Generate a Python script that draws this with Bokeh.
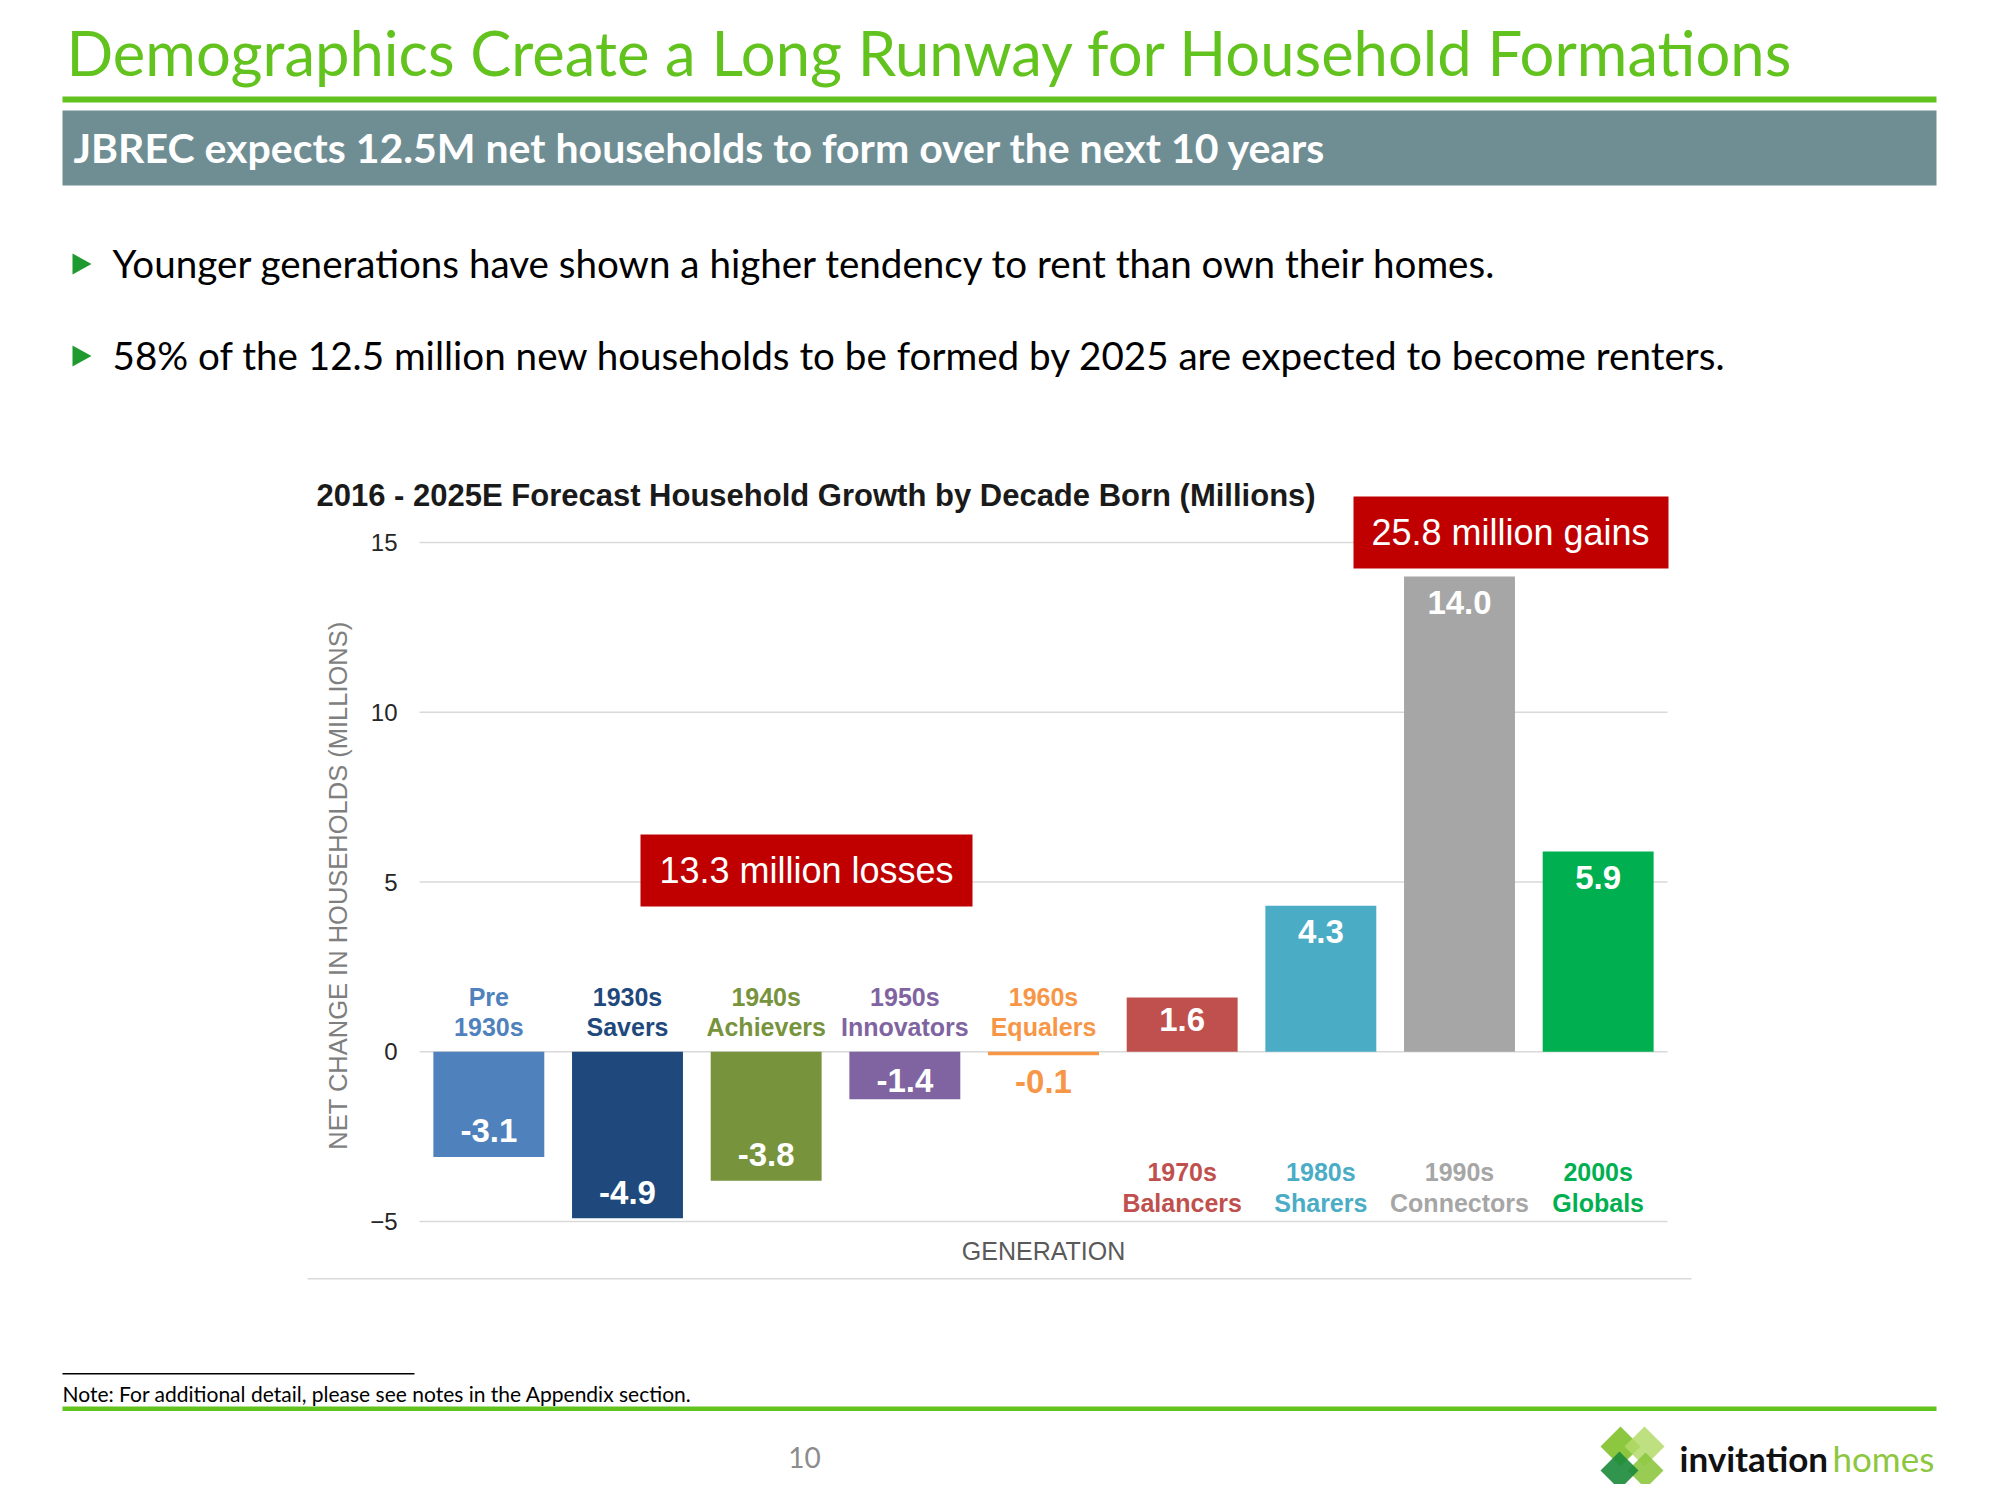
import math
from bokeh.plotting import figure
from bokeh.models import Range1d, FixedTicker, ColumnDataSource
from bokeh.embed import file_html
from bokeh.resources import INLINE
from bokeh.core.properties import value

# ---------------- data ----------------
gen_decade = ["Pre", "1930s", "1940s", "1950s", "1960s", "1970s", "1980s", "1990s", "2000s"]
gen_name = ["1930s", "Savers", "Achievers", "Innovators", "Equalers", "Balancers", "Sharers", "Connectors", "Globals"]
net_change = [-3.1, -4.9, -3.8, -1.4, -0.1, 1.6, 4.3, 14.0, 5.9]
bar_colors = ["#4F81BD", "#1F497D", "#77933C", "#8064A2", "#F79646", "#C0504D", "#4BACC6", "#A6A6A6", "#00B050"]
y_ticks = [-5, 0, 5, 10, 15]

title_text = "Demographics Create a Long Runway for Household Formations"
subtitle_text = "JBREC expects 12.5M net households to form over the next 10 years"
bullet_texts = [
    "Younger generations have shown a higher tendency to rent than own their homes.",
    "58% of the 12.5 million new households to be formed by 2025 are expected to become renters.",
]
chart_title = "2016 - 2025E Forecast Household Growth by Decade Born (Millions)"
y_label = "NET CHANGE IN HOUSEHOLDS (MILLIONS)"
x_label = "GENERATION"
note_text = "Note:  For additional detail, please see notes in the Appendix section."
page_number = "10"

# ---------------- style / layout ----------------
PAGE_W, PAGE_H = 1984, 1484
GREEN = "#62C21E"
BANNER = "#6F8E94"
BULLET_GREEN = "#1F9A2E"
CAL = "Lato"          # stand-in for Calibri
ARIAL = "Liberation Sans"
GRID = "#D9D9D9"

# chart plotting area on the page (page pixel coordinates)
n = len(net_change)
AREA_L, AREA_R = 419, 1667          # category axis spans these pixels
ZERO_Y, PX_PER_UNIT = 1051.3, 33.95  # value axis scale
unit_x = (AREA_R - AREA_L) / n

x_rng = Range1d((0 - AREA_L) / unit_x, (PAGE_W - AREA_L) / unit_x)
y_rng = Range1d((ZERO_Y - PAGE_H) / PX_PER_UNIT, ZERO_Y / PX_PER_UNIT)

p = figure(width=PAGE_W, height=PAGE_H, x_range=x_rng, y_range=y_rng,
           x_axis_type=None, toolbar_location=None, output_backend="svg", min_border=0)
p.title.visible = False
p.outline_line_color = None
p.background_fill_color = "white"
p.border_fill_color = "white"
p.grid.visible = False
# page-pixel ranges for the slide decorations
p.extra_x_ranges = {"px": Range1d(0, PAGE_W)}
p.extra_y_ranges = {"py": Range1d(PAGE_H, 0)}
PG = dict(x_range_name="px", y_range_name="py")

# value axis drawn at the left edge of the category area
ax = p.yaxis[0]
ax.fixed_location = 0
ax.ticker = FixedTicker(ticks=y_ticks)
ax.axis_line_color = None
ax.major_tick_line_color = None
ax.minor_tick_line_color = None
ax.major_tick_out = 0
ax.major_tick_in = 0
ax.major_label_standoff = 22
ax.major_label_text_font = ARIAL
ax.major_label_text_font_size = "24px"
ax.major_label_text_color = "#262626"

# ---------------- header ----------------
p.text(x=[66], y=[51], text=[title_text], text_font=value(CAL), text_font_size="61.5px",
       text_color=GREEN, text_baseline="middle", text_align="left", **PG)
p.quad(left=[62], right=[1936], top=[96], bottom=[102], fill_color=GREEN, line_color=None, **PG)
p.quad(left=[62], right=[1936], top=[110], bottom=[185], fill_color=BANNER, line_color=None, **PG)
p.text(x=[73], y=[147], text=[subtitle_text], text_font=value(CAL), text_font_style="bold",
       text_font_size="41px", text_color="white", text_baseline="middle", text_align="left", **PG)
for i, t in enumerate(bullet_texts):
    cy = 263.5 + 92 * i
    p.patch(x=[72, 91, 72], y=[cy - 10.5, cy, cy + 10.5], fill_color=BULLET_GREEN, line_color=None, **PG)
    p.text(x=[112], y=[cy - 1], text=[t], text_font=value(CAL), text_font_size="38.6px",
           text_color="black", text_baseline="middle", text_align="left", **PG)

# ---------------- chart ----------------
xpos = [i + 0.5 for i in range(n)]
inside = [abs(v) >= 0.5 for v in net_change]
lab_y, lab_col = [], []
for v, ins, col in zip(net_change, inside, bar_colors):
    s = 1 if v >= 0 else -1
    if ins:
        lab_y.append(v - s * min(0.77, 0.4 * abs(v)))
        lab_col.append("white")
    else:
        lab_y.append(v + s * 0.77)
        lab_col.append(col)
line1_y = [1.62 if v < 0 else -3.54 for v in net_change]
line2_y = [0.72 if v < 0 else -4.45 for v in net_change]

src = ColumnDataSource(dict(x=xpos, top=net_change, color=bar_colors,
                            lab=[f"{v:.1f}" for v in net_change], lab_y=lab_y, lab_col=lab_col,
                            l1=gen_decade, l2=gen_name, l1y=line1_y, l2y=line2_y))

# horizontal gridlines across the category area
p.segment(x0=[0] * len(y_ticks), x1=[n] * len(y_ticks), y0=y_ticks, y1=y_ticks,
          line_color=GRID, line_width=1.5)

p.vbar(x="x", top="top", bottom=0, width=0.8, fill_color="color", line_color=None, source=src)
p.text(x="x", y="lab_y", text="lab", text_color="lab_col", text_font=value(ARIAL),
       text_font_style="bold", text_font_size="33px", text_align="center",
       text_baseline="middle", source=src)
p.text(x="x", y="l1y", text="l1", text_color="color", text_font=value(ARIAL),
       text_font_style="bold", text_font_size="25px", text_align="center",
       text_baseline="middle", source=src)
p.text(x="x", y="l2y", text="l2", text_color="color", text_font=value(ARIAL),
       text_font_style="bold", text_font_size="25px", text_align="center",
       text_baseline="middle", source=src)

# annotation boxes (totals computed from the data)
losses = -sum(v for v in net_change if v < 0)
gains = sum(v for v in net_change if v > 0)
p.quad(left=[640, 1353], right=[972, 1668], top=[834, 496], bottom=[906, 568],
       fill_color="#C00000", line_color=None, **PG)
p.text(x=[806, 1510], y=[870, 532], text=[f"{losses:.1f} million losses", f"{gains:.1f} million gains"],
       text_color="white", text_font=value(ARIAL), text_font_size="36px", text_align="center",
       text_baseline="middle", **PG)

p.text(x=[316], y=[495], text=[chart_title], text_font=value(ARIAL), text_font_style="bold",
       text_font_size="31px", text_color="#1A1A1A", text_align="left", text_baseline="middle", **PG)
p.text(x=[337], y=[885], text=[y_label], angle=math.pi / 2, text_font=value(ARIAL),
       text_font_size="25.5px", text_color="#7F7F7F", text_align="center", text_baseline="middle", **PG)
p.text(x=[1043], y=[1250], text=[x_label], text_font=value(ARIAL), text_font_size="25px",
       text_color="#595959", text_align="center", text_baseline="middle", **PG)
p.quad(left=[307], right=[1691], top=[1277.5], bottom=[1279], fill_color=GRID, line_color=None, **PG)

# ---------------- footer ----------------
p.quad(left=[62], right=[414], top=[1372.5], bottom=[1374], fill_color="black", line_color=None, **PG)
p.text(x=[62], y=[1393], text=[note_text], text_font=value(CAL), text_font_size="21px",
       text_color="black", text_baseline="middle", text_align="left", **PG)
p.quad(left=[62], right=[1936], top=[1406], bottom=[1410.5], fill_color=GREEN, line_color=None, **PG)
p.text(x=[804], y=[1457], text=[page_number], text_font=value(CAL), text_font_size="28px",
       text_color="#8C8C8C", text_baseline="middle", text_align="center", **PG)

# logo
def diamond(cx, cy, r):
    return [cx - r, cx, cx + r, cx], [cy, cy - r, cy, cy + r]

for (cx, cy, r, col, a) in [(1620, 1446, 20, "#8DC63F", 1.0), (1644, 1446, 20, "#B3DB6A", 0.85),
                            (1645, 1470, 18, "#8DC63F", 0.9), (1619, 1470, 19, "#1B8A3B", 0.9)]:
    xs, ys = diamond(cx, cy, r)
    p.patch(x=xs, y=ys, fill_color=col, fill_alpha=a, line_color=None, **PG)
p.text(x=[1679], y=[1457], text=["invitation"], text_font=value(CAL), text_font_style="bold",
       text_font_size="35px", text_color="#111111", text_baseline="middle", text_align="left", **PG)
p.text(x=[1832], y=[1457], text=["homes"], text_font=value(CAL),
       text_font_size="35px", text_color="#8DC63F", text_baseline="middle", text_align="left", **PG)

open("out.html", "w").write(file_html(p, INLINE))
